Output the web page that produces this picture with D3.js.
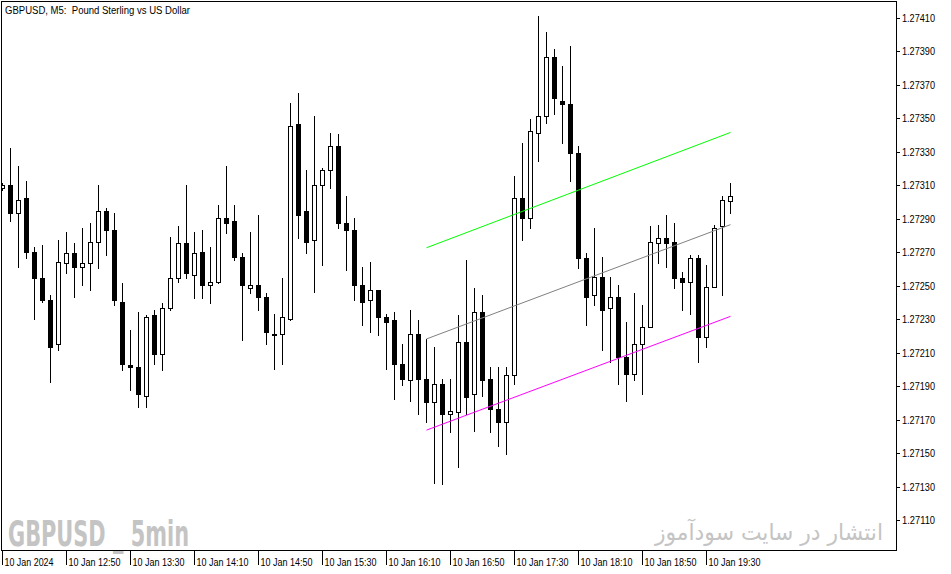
<!DOCTYPE html>
<html><head><meta charset="utf-8">
<script src="https://cdn.jsdelivr.net/npm/d3@7"></script>
<style>body{margin:0;background:#fff;} svg{display:block;}</style>
</head><body>
<svg id="c" width="951" height="574"></svg>
<script>
const opens = [1.27309,1.27311,1.27294,1.27303,1.27271,1.27255,1.27242,1.27216,1.27264,1.27270,
1.27262,1.27264,1.27277,1.27295,1.27284,1.27241,1.27203,1.27202,1.27185,1.27233,
1.27210,1.27237,1.27255,1.27276,1.27257,1.27271,1.27251,1.27253,1.27291,1.27289,
1.27268,1.27249,1.27251,1.27244,1.27222,1.27222,1.27231,1.27347,1.27295,1.27278,
1.27311,1.27320,1.27334,1.27288,1.27284,1.27251,1.27242,1.27248,1.27232,1.27230,
1.27204,1.27194,1.27222,1.27195,1.27181,1.27192,1.27174,1.27175,1.27217,1.27186,
1.27235,1.27195,1.27177,1.27169,1.27197,1.27303,1.27291,1.27342,1.27352,1.27387,
1.27361,1.27359,1.27330,1.27267,1.27245,1.27256,1.27237,1.27244,1.27208,1.27198,
1.27216,1.27226,1.27276,1.27279,1.27277,1.27255,1.27253,1.27267,1.27220,1.27250,
1.27286,1.27301];
const highs = [1.27312,1.27333,1.27322,1.27313,1.27274,1.27275,1.27245,1.27278,1.27283,1.27276,
1.27285,1.27288,1.27311,1.27297,1.27294,1.27252,1.27224,1.27235,1.27233,1.27236,
1.27240,1.27280,1.27286,1.27311,1.27283,1.27284,1.27274,1.27299,1.27322,1.27299,
1.27270,1.27283,1.27293,1.27246,1.27234,1.27255,1.27360,1.27366,1.27320,1.27352,
1.27321,1.27342,1.27341,1.27304,1.27291,1.27262,1.27265,1.27248,1.27234,1.27235,
1.27216,1.27236,1.27230,1.27219,1.27214,1.27195,1.27195,1.27233,1.27266,1.27249,
1.27245,1.27202,1.27202,1.27202,1.27316,1.27336,1.27350,1.27412,1.27402,1.27392,
1.27382,1.27394,1.27334,1.27270,1.27285,1.27268,1.27256,1.27251,1.27229,1.27246,
1.27239,1.27286,1.27287,1.27293,1.27288,1.27259,1.27269,1.27269,1.27263,1.27287,
1.27304,1.27312];
const lows = [1.27308,1.27289,1.27262,1.27267,1.27231,1.27241,1.27193,1.27212,1.27258,1.27244,
1.27251,1.27248,1.27261,1.27269,1.27239,1.27200,1.27188,1.27178,1.27178,1.27204,
1.27200,1.27236,1.27253,1.27255,1.27243,1.27243,1.27240,1.27252,1.27282,1.27266,
1.27218,1.27246,1.27236,1.27216,1.27201,1.27204,1.27230,1.27279,1.27270,1.27247,
1.27263,1.27309,1.27285,1.27260,1.27242,1.27227,1.27223,1.27221,1.27201,1.27183,
1.27191,1.27182,1.27174,1.27169,1.27133,1.27132,1.27163,1.27142,1.27174,1.27164,
1.27185,1.27163,1.27155,1.27150,1.27192,1.27278,1.27285,1.27325,1.27348,1.27353,
1.27336,1.27313,1.27261,1.27227,1.27239,1.27212,1.27205,1.27192,1.27182,1.27194,
1.27186,1.27226,1.27264,1.27262,1.27249,1.27236,1.27234,1.27205,1.27214,1.27250,
1.27245,1.27294];
const closes = [1.27311,1.27294,1.27302,1.27271,1.27255,1.27242,1.27214,1.27265,1.27270,1.27262,
1.27264,1.27277,1.27295,1.27284,1.27242,1.27204,1.27202,1.27186,1.27232,1.27210,
1.27237,1.27255,1.27276,1.27258,1.27270,1.27251,1.27253,1.27291,1.27288,1.27268,
1.27251,1.27251,1.27244,1.27223,1.27221,1.27232,1.27346,1.27293,1.27277,1.27311,
1.27320,1.27334,1.27288,1.27284,1.27251,1.27241,1.27248,1.27232,1.27229,1.27204,
1.27195,1.27222,1.27195,1.27181,1.27192,1.27174,1.27176,1.27217,1.27184,1.27235,
1.27194,1.27177,1.27169,1.27197,1.27303,1.27291,1.27343,1.27352,1.27387,1.27363,
1.27359,1.27330,1.27267,1.27244,1.27256,1.27236,1.27244,1.27208,1.27198,1.27216,
1.27226,1.27277,1.27279,1.27276,1.27255,1.27253,1.27267,1.27220,1.27250,1.27285,
1.27302,1.27304];

const yTickValues = [1.27110,1.27130,1.27150,1.27170,1.27190,1.27210,1.27230,1.27250,
  1.27270,1.27290,1.27310,1.27330,1.27350,1.27370,1.27390,1.27410];
const xTickIndex = [0,8,16,24,32,40,48,56,64,72,80,88];
const xTickLabels = ["10 Jan 2024","10 Jan 12:50","10 Jan 13:30","10 Jan 14:10","10 Jan 14:50",
  "10 Jan 15:30","10 Jan 16:10","10 Jan 16:50","10 Jan 17:30","10 Jan 18:10","10 Jan 18:50","10 Jan 19:30"];

const channelIdx = [53, 91];
const channelUpper = [1.272733, 1.273422];
const channelMid = [1.272188, 1.272871];
const channelLower = [1.271643, 1.272323];

const titleText = "GBPUSD, M5:  Pound Sterling vs US Dollar";
const watermarkLeft = "GBPUSD _ 5min";
const watermarkRight = "انتشار در سایت سودآموز";

const candles = opens.map((o, i) => ({i, o, h: highs[i], l: lows[i], c: closes[i]}));

const svg = d3.select("#c");
const L = 1, T = 1, R = 896, B = 550;
const x = d3.scaleLinear().domain([0, opens.length - 1]).range([2, 730]);
const y = d3.scaleLinear().domain([1.27110, 1.27410]).range([521, 19]);
const px = i => Math.round(x(i));
const py = v => Math.round(y(v));

svg.append("rect").attr("width", 951).attr("height", 574).attr("fill", "#fff");

svg.append("defs").append("clipPath").attr("id", "clip")
  .append("rect").attr("x", L + 1).attr("y", T + 1).attr("width", R - L - 1).attr("height", B - T - 1);

// watermark texts
svg.append("text").attr("x", 8).attr("y", 546)
  .attr("font-family", "'Liberation Sans Narrow','DejaVu Sans Condensed','Liberation Sans',sans-serif")
  .attr("font-weight", "bold").attr("font-size", 35).attr("fill", "#c4c4c4")
  .attr("textLength", 181).attr("lengthAdjust", "spacingAndGlyphs")
  .text(watermarkLeft);
svg.append("text").attr("x", 769).attr("y", 540)
  .attr("font-family", "'DejaVu Sans',sans-serif").attr("font-size", 23).attr("fill", "#c4c4c4")
  .attr("text-anchor", "middle").attr("direction", "rtl")
  .attr("textLength", 228).attr("lengthAdjust", "spacingAndGlyphs")
  .text(watermarkRight);

const g = svg.append("g").attr("clip-path", "url(#clip)");

// wicks
g.selectAll("line.wick").data(candles).join("line").attr("class", "wick")
  .attr("x1", d => px(d.i) + 0.5).attr("x2", d => px(d.i) + 0.5)
  .attr("y1", d => py(d.h)).attr("y2", d => py(d.l) + 1)
  .attr("stroke", "#000").attr("stroke-width", 1);

// bodies
g.selectAll("rect.body").data(candles).join("rect").attr("class", "body")
  .attr("x", d => px(d.i) - 1.5)
  .attr("y", d => py(Math.max(d.o, d.c)) + 0.5)
  .attr("width", 4)
  .attr("height", d => Math.max(0, py(Math.min(d.o, d.c)) - py(Math.max(d.o, d.c))))
  .attr("fill", d => d.c > d.o ? "#fff" : "#000")
  .attr("stroke", "#000").attr("stroke-width", 1);

// regression channel
const chan = [[channelUpper, "#00ff00"], [channelMid, "#808080"], [channelLower, "#ff00ff"]];
chan.forEach(([vals, col]) => {
  g.append("line")
    .attr("x1", x(channelIdx[0]) + 0.5).attr("x2", x(channelIdx[1]) + 0.5)
    .attr("y1", y(vals[0])).attr("y2", y(vals[1]))
    .attr("stroke", col).attr("stroke-width", 1);
});

// frame
svg.append("rect").attr("x", L + 0.5).attr("y", T + 0.5).attr("width", R - L).attr("height", B - T)
  .attr("fill", "none").attr("stroke", "#000").attr("stroke-width", 1);

// title
svg.append("text").attr("x", 5).attr("y", 14)
  .attr("font-family", "'Liberation Sans',Arial,sans-serif").attr("font-size", 10).attr("fill", "#000")
  .attr("textLength", 185).attr("lengthAdjust", "spacingAndGlyphs")
  .attr("xml:space", "preserve").style("white-space", "pre")
  .text(titleText);

// right price axis
const ya = svg.append("g");
yTickValues.forEach(v => {
  const yy = py(v) - 0.5;
  ya.append("line").attr("x1", R + 1).attr("x2", R + 4).attr("y1", yy).attr("y2", yy)
    .attr("stroke", "#000").attr("stroke-width", 1);
  ya.append("text").attr("x", 902).attr("y", yy + 3.5)
    .attr("font-family", "'Liberation Sans',Arial,sans-serif").attr("font-size", 10).attr("fill", "#000")
    .attr("textLength", 33).attr("lengthAdjust", "spacingAndGlyphs")
    .text(d3.format(".5f")(v));
});

// bottom time axis
const xa = svg.append("g");
xTickIndex.forEach((idx, k) => {
  const xx = px(idx) + 0.5;
  xa.append("line").attr("x1", xx).attr("x2", xx).attr("y1", B + 1).attr("y2", B + 15)
    .attr("stroke", "#000").attr("stroke-width", 1);
  xa.append("text").attr("x", xx + 2).attr("y", 566)
    .attr("font-family", "'Liberation Sans',Arial,sans-serif").attr("font-size", 10).attr("fill", "#000")
    .attr("textLength", k === 0 ? 49 : 52).attr("lengthAdjust", "spacingAndGlyphs")
    .text(xTickLabels[k]);
});
</script>
</body></html>
